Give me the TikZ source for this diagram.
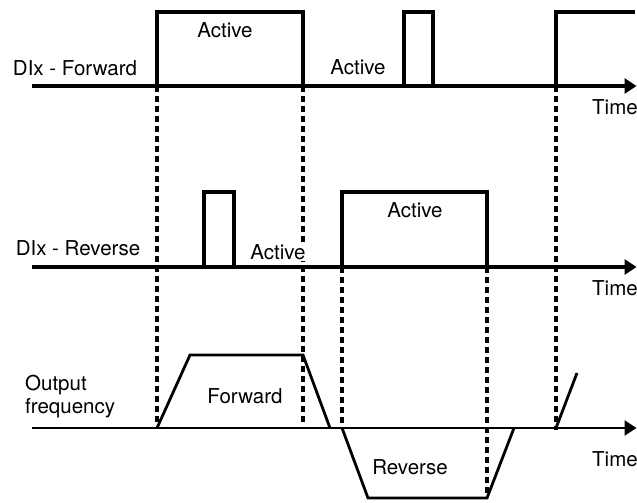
\documentclass[tikz,border=0pt]{standalone}
\usepackage{fontspec}
\setmainfont{TeX Gyre Heros}
\usetikzlibrary{arrows.meta}

\begin{document}
\begin{tikzpicture}[x=1pt,y=-1pt,
    axis/.style={line width=3.2pt,-{Triangle[length=12pt,width=15pt]}},
    signal/.style={line width=3.4pt,line join=miter},
    ramp/.style={line width=2.8pt,line join=miter},
    guide/.style={line width=3.2pt,dash pattern=on 5.5pt off 4.5pt},
    lbl/.style={font=\fontsize{20.5}{23}\selectfont,inner sep=1pt}]
  \useasboundingbox (0,0) rectangle (637,503);

  \coordinate (fwd0) at (32,86);   \coordinate (fwd1) at (636.5,86);
  \coordinate (rev0) at (32,267);  \coordinate (rev1) at (636.5,267);
  \coordinate (frq0) at (32,428);  \coordinate (frq1) at (636.5,428);

  \draw[guide] (157,86) -- (157,426);
  \draw[guide] (303,86) -- (303,422);
  \draw[guide] (342,267) -- (342,426);
  \draw[guide] (487,267) -- (487,497);
  \draw[guide] (556,86) -- (556,430);

  \draw[axis] (fwd0) -- (fwd1);
  \draw[axis] (rev0) -- (rev1);
  \draw[axis,line width=2.6pt] (frq0) -- (frq1);

  \draw[signal] (157,86) |- (303,12) -- (303,86);
  \draw[signal] (404,86) |- (433,12) -- (433,86);
  \draw[signal] (556,86) |- (635,12);

  \draw[signal] (204,267) |- (234,192) -- (234,267);
  \draw[signal] (342,267) |- (487,192) -- (487,267);

  \draw[ramp] (157,428) -- (190,355) -- (303,355) -- (330,428);
  \draw[ramp] (342,428) -- (368,498) -- (487,498) -- (514,428);
  \draw[ramp] (556,428) -- (577,373);

  \node[lbl] (fwdname) at (75,68) {DIx - Forward};
  \node[lbl] (fwdact1) at (225,30) {Active};
  \node[lbl] (fwdact2) at (358,67) {Active};
  \node[lbl,anchor=west] (fwdtime) at (591,107) {Time};

  \node[lbl] (revname) at (78,248) {DIx - Reverse};
  \node[lbl,fill=white] (revact1) at (278,252) {Active};
  \node[lbl] (revact2) at (415,210) {Active};
  \node[lbl,anchor=west] (revtime) at (591,288) {Time};

  \node[lbl,anchor=west,align=left] (frqname) at (24,397) {Output\\frequency};
  \node[lbl] (frqfwd) at (245,396) {Forward};
  \node[lbl] (frqrev) at (410,467) {Reverse};
  \node[lbl,anchor=west] (frqtime) at (591,459) {Time};
\end{tikzpicture}
\end{document}
